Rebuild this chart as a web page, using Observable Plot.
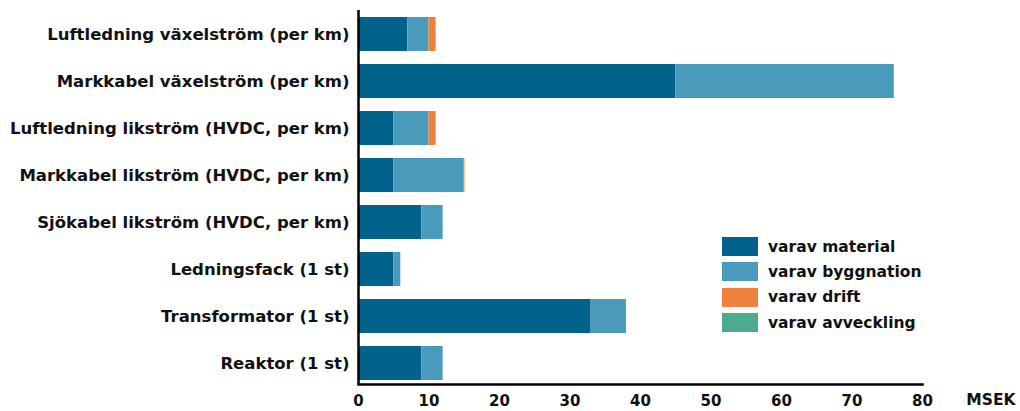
<!DOCTYPE html>
<html><head><meta charset="utf-8">
<script src="https://cdn.jsdelivr.net/npm/d3@7"></script>
<script src="https://cdn.jsdelivr.net/npm/@observablehq/plot@0.6"></script>
<style>
body{margin:0;background:#fff;font-family:"DejaVu Sans",sans-serif;}
#wrap{position:relative;width:1020px;height:411px;}
#legend{position:absolute;left:722px;top:234px;font:bold 15.5px "DejaVu Sans",sans-serif;color:#111;}
.row{display:flex;align-items:center;height:25.3px;}
.sw{width:36px;height:19px;margin-right:10px;}
</style></head>
<body><div id="wrap"><div id="legend"></div></div>
<script>
const categories = [
  "Luftledning växelström (per km)",
  "Markkabel växelström (per km)",
  "Luftledning likström (HVDC, per km)",
  "Markkabel likström (HVDC, per km)",
  "Sjökabel likström (HVDC, per km)",
  "Ledningsfack (1 st)",
  "Transformator (1 st)",
  "Reaktor (1 st)"
];
const seriesNames = ["varav material","varav byggnation","varav drift","varav avveckling"];
const colors = ["#01628B","#4A9BBB","#F0803F","#4BAA90"];
const material    = [7, 45, 5, 5, 9, 5, 33, 9];
const byggnation  = [3, 31, 5, 10, 3, 1, 5, 3];
const drift       = [1, 0, 1, 0.1, 0, 0, 0, 0];
const avveckling  = [0, 0, 0, 0, 0, 0, 0, 0];
const xTicks = [0,10,20,30,40,50,60,70,80];

const seriesValues = [material, byggnation, drift, avveckling];
const data = [];
categories.forEach((c,i)=>seriesNames.forEach((s,j)=>data.push({cat:c, series:s, value:seriesValues[j][i]})));

const chart = Plot.plot({
  width:1020, height:411,
  marginLeft:358, marginRight:98, marginTop:10, marginBottom:27,
  style:{fontFamily:"'DejaVu Sans', sans-serif", fontSize:"15px", fontWeight:"bold", color:"#111", background:"#fff"},
  x:{domain:[0,80], ticks:xTicks, label:null},
  y:{domain:categories, paddingInner:0.28, paddingOuter:0.14, insetBottom:-2, label:null},
  color:{domain:seriesNames, range:colors},
  marks:[
    Plot.barX(data, Plot.stackX({x:"value", y:"cat", fill:"series", order:seriesNames})),
    Plot.ruleX([0], {stroke:"#000", strokeWidth:2.5}),
    Plot.frame({anchor:"bottom", stroke:"#000", strokeWidth:2.5}),
    Plot.axisX({ticks:xTicks, tickSize:0, tickPadding:11, label:null, fontSize:15, fontWeight:"bold"}),
    Plot.axisY({tickSize:0, tickPadding:9, label:null, fontSize:16.5, fontWeight:"bold"}),
    Plot.text(["MSEK"], {frameAnchor:"bottom-right", dx:93, dy:20, textAnchor:"end", fontWeight:"bold", fontSize:15.5})
  ]
});
const wrap = document.getElementById("wrap");
wrap.insertBefore(chart, wrap.firstChild);
const legend = document.getElementById("legend");
seriesNames.forEach((s,i)=>{
  const r=document.createElement("div");r.className="row";
  const sw=document.createElement("div");sw.className="sw";sw.style.background=colors[i];
  const t=document.createElement("span");t.textContent=s;
  r.appendChild(sw);r.appendChild(t);legend.appendChild(r);
});
</script></body></html>
